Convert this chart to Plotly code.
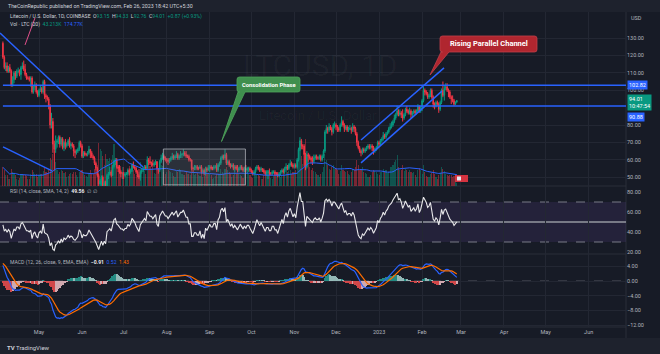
import numpy as np
import pandas as pd
import plotly.graph_objects as go

# ---------------- data ----------------
# closes before the visible window (Mar 1 - Apr 4 2022), only used to warm up RSI / MACD
warmup_close = [111,110,106,100,102,100,98,101,109,103,101,102,99,103,105,110,114,117,118,115,
                116,120,120,124,124,124,128,127,130,129,124,130,128,132,127]

# daily LTC/USD candles, 2022-04-05 .. 2023-02-26
close = (
    [119,113,114,111,113,111,103,106,110,108,111,111,109,113,114,112,109,107,107,106,107,99,102,103,99,97]
    + [100,101,99,105,97,96,95,91,80,82,69,66,70,71,73,69,72,67,70,68,69,71,68,69,68,65,64,65,66,70,68]
    + [62,64,63,63,64,66,64,62,61,58,55,51,46,48,50,45,47,44,51,52,53,51,56,59,60,56,55,53,52,52]
    + [51,52,52,54,53,54,57,56,55,53,51,50,53,54,55,56,55,60,59,58,58,57,58,59,55,54,59,61,62,61,60]
    + [60,59,60,61,62,61,62,63,61,62,63,63,64,63,62,62,60,60,55,55,56,56,55,55,56,53,54,52,55,54,55]
    + [56,55,55,56,56,54,57,58,61,62,61,63,58,59,57,56,57,55,56,55,54,55,56,55,54,55,54,55,55,54]
    + [53,52,53,55,56,55,54,55,54,53,52,53,53,52,52,53,53,52,52,51,52,53,54,53,55,56,55,57,58,57,56]
    + [57,56,60,66,71,68,68,63,56,63,62,61,60,59,61,62,61,61,62,60,62,65,76,78,77,79,78,76,80,80]
    + [79,78,77,80,82,80,78,79,77,78,78,77,79,78,75,70,67,65,64,66,65,66,67,68,67,68,67,65,66,67,70]
    + [69,71,72,74,73,75,76,78,79,80,82,84,86,88,86,87,86,84,86,89,88,87,88,86,87,88,87,88,91,88,90]
    + [94,100,99,98,96,97,100,96,92,91,93,92,89,93,100,97,101,102,100,99,96,95,94,92,93.15,94.01]
)
high = (
    [128,120,116,116,114,115,112,108,111,111,112,113,112,114,116,117,115,110,108,108,108,108,103,105,104,100]
    + [101,103,102,106,106,98,97,96,92,87,84,71,74,72,74,74,73,73,71,72,70,72,73,70,70,69,66,66,67,71,71]
    + [69,65,65,64,65,68,66,65,63,62,59,56,52,49,51,51,48,48,52,53,56,54,57,60,61,61,57,57,54,53]
    + [53,53,53,55,55,55,58,59,57,56,54,52,54,55,56,57,57,62,61,62,59,60,59,60,59,55,60,63,64,63,62]
    + [61,61,61,62,64,63,63,65,64,63,65,64,66,65,65,63,63,61,60,56,57,57,57,56,57,57,55,55,56,56,57]
    + [57,57,56,57,57,58,58,59,62,63,63,66,64,60,60,58,58,58,57,57,57,56,57,57,56,56,57,56,56,56]
    + [55,54,54,56,57,57,56,56,55,55,54,54,54,55,53,54,54,54,53,53,53,54,55,55,56,58,57,58,60,59,58]
    + [58,58,61,67,73,72,69,69,64,65,64,63,62,62,63,63,63,62,63,63,63,66,77,80,79,81,80,79,81,82]
    + [81,80,79,81,85,83,81,80,80,79,80,79,81,80,79,76,71,68,66,67,67,67,68,69,69,69,69,68,67,68,71]
    + [71,72,73,76,75,76,77,79,81,82,83,86,87,91,89,89,88,89,87,90,91,89,90,89,88,89,89,89,92,91,91]
    + [95,102,101,100,99,98,101,101,97,93,94,94,93,94,101,105,103,104,104,101,100,97,97,95,93.5,94.33]
)
low = (
    [118,112,111,110,110,110,102,102,104,106,107,110,108,106,112,111,108,106,106,105,102,98,98,100,98,96]
    + [96,99,98,98,95,93,94,89,78,78,64,54,64,67,69,67,68,66,65,66,67,68,67,66,67,62,61,63,64,65,67]
    + [61,61,62,62,62,63,61,61,60,57,54,50,44,44,45,44,44,42,43,49,51,50,51,55,57,55,53,52,50,49]
    + [49,50,51,51,51,52,53,55,54,52,50,49,48,52,53,54,54,55,57,57,56,56,56,57,54,52,53,58,60,60,59]
    + [58,57,58,59,60,60,60,61,60,60,61,61,62,62,61,61,59,59,54,53,54,54,54,54,55,52,52,51,51,53,54]
    + [53,54,54,54,55,53,53,56,57,60,60,60,57,57,56,55,56,54,53,54,53,53,54,54,53,53,53,52,53,53]
    + [52,51,51,52,54,54,53,53,53,52,51,51,49,51,51,51,52,51,51,50,50,51,52,52,52,54,54,54,56,56,55]
    + [55,55,55,59,65,66,66,56,54,55,59,60,58,57,58,60,60,60,60,59,59,61,64,75,75,76,77,74,75,78]
    + [77,76,76,76,79,79,76,77,76,76,77,75,76,76,74,68,66,64,62,63,64,64,65,66,66,66,65,63,64,65,66]
    + [68,68,70,71,72,72,74,75,77,78,79,81,83,85,85,85,84,82,83,85,87,86,86,84,84,86,86,86,87,87,87]
    + [88,93,97,97,95,95,96,95,90,89,90,91,87,88,92,96,94,100,99,96,95,92,93,91,91.5,92.76]
)
volume_k = (
    [300,260,180,170,120,110,280,230,200,170,120,100,130,200,190,170,180,160,110,120,200,260,220,200,190,150]
    + [170,200,190,240,300,230,190,260,450,420,520,560,380,260,200,230,260,240,210,230,150,160,200,210,190,230,220,170,150,230,240]
    + [250,220,170,160,140,200,260,200,190,270,280,330,700,600,560,480,330,520,430,400,450,420,500,680,420,330,280,300,320,300]
    + [310,180,160,220,320,260,300,260,200,180,230,270,380,280,300,240,200,380,370,320,280,300,210,200,250,280,380,330,320,220,200]
    + [230,250,240,220,210,160,150,240,230,280,250,200,180,170,230,200,190,180,330,230,170,190,210,170,160,230,150,160,230,210,200]
    + [190,170,120,130,160,200,200,180,280,230,190,280,310,250,230,200,150,170,220,200,230,200,180,160,130,210,240,230,200,180]
    + [150,130,170,200,180,170,160,120,110,170,200,180,260,230,130,120,160,190,170,180,170,140,170,190,240,300,230,240,250,200,220]
    + [230,250,330,560,720,480,350,620,760,520,400,300,250,290,240,220,200,170,150,190,230,300,520,420,330,280,250,310,340,280]
    + [270,250,200,240,330,260,240,220,240,200,170,230,280,260,300,420,340,260,280,300,230,210,200,150,140,180,220,260,240,230,200]
    + [180,230,220,280,240,260,210,230,300,310,330,380,420,500,300,250,260,330,240,280,260,220,250,230,210,220,180,150,250,290,260]
    + [200,330,220,160,140,150,200,210,250,200,140,110,170,210,300,280,240,200,170,160,180,170,150,160,120,43.213]
)
level_high = 102.82
level_low = 90.88
month_labels = ["May","Jun","Jul","Aug","Sep","Oct","Nov","Dec","2023","Feb","Mar","Apr","May","Jun"]
price_ticks = [50,60,70,80,100,110,120,130]   # 90.00 sits under the price tags in the reference
rsi_ticks = [20,40,60,80]
macd_ticks = [-12,-8,-4,0,4]

# ---------------- derived series ----------------
n = len(close)
dates = pd.date_range("2022-04-05", periods=n, freq="D")
opens = [warmup_close[-1]] + close[:-1]
k = len(warmup_close)
s_all = pd.Series(warmup_close + close, dtype=float)
d = s_all.diff()
ag = d.clip(lower=0).ewm(alpha=1/14, adjust=False).mean()
al = (-d.clip(upper=0)).ewm(alpha=1/14, adjust=False).mean()
rsi = (100 - 100 / (1 + ag / al)).values[k:]
macd_all = s_all.ewm(span=12, adjust=False).mean() - s_all.ewm(span=26, adjust=False).mean()
sig_all = macd_all.ewm(span=9, adjust=False).mean()
hist_all = (macd_all - sig_all).values
prev = np.roll(hist_all, 1)
hcol_all = np.where(hist_all >= 0, np.where(hist_all >= prev, "#26a69a", "#b2dfdb"),
                    np.where(hist_all < prev, "#ff5252", "#ffcdd2"))
macd = macd_all.values[k:]
sig = sig_all.values[k:]
hist = hist_all[k:]
hcol = list(hcol_all[k:])
vol_ma = pd.Series(volume_k, dtype=float).rolling(20, min_periods=1).mean()

UP, DN = "#089981", "#f23645"
vcol = ["rgba(8,153,129,0.45)" if c >= o else "rgba(242,54,69,0.45)" for o, c in zip(opens, close)]

# ---------------- geometry ----------------
W, H = 660, 354
def fx(p): return p / W
def fy(p): return 1 - p / H
XDOM = [0, fx(626)]
BG = "#171b26"
BAR = "#1e222d"
GRID = "#232733"
TXT = "#b2b5be"
BLUE = "#2962ff"
DAYMS = 86400000

fig = go.Figure()
fig.add_trace(go.Candlestick(x=dates, open=opens, high=high, low=low, close=close,
                             increasing=dict(line=dict(color=UP, width=1), fillcolor=UP),
                             decreasing=dict(line=dict(color=DN, width=1), fillcolor=DN),
                             whiskerwidth=0, xaxis="x", yaxis="y", hoverinfo="skip"))
fig.add_trace(go.Bar(x=dates, y=volume_k, marker=dict(color=vcol, line=dict(width=0)),
                     width=DAYMS * 0.8, xaxis="x", yaxis="y2", hoverinfo="skip"))
fig.add_trace(go.Scatter(x=dates, y=vol_ma, mode="lines", line=dict(color=BLUE, width=1),
                         xaxis="x", yaxis="y2", hoverinfo="skip"))
fig.add_trace(go.Scatter(x=dates, y=rsi, mode="lines", line=dict(color="#e8e8ea", width=1.1),
                         xaxis="x", yaxis="y3", hoverinfo="skip"))
fig.add_trace(go.Bar(x=dates, y=hist, marker=dict(color=hcol, line=dict(width=0)), opacity=0.8,
                     width=DAYMS * 0.85, xaxis="x", yaxis="y4", hoverinfo="skip"))
fig.add_trace(go.Scatter(x=dates, y=macd, mode="lines", line=dict(color=BLUE, width=1.2),
                         xaxis="x", yaxis="y4", hoverinfo="skip"))
fig.add_trace(go.Scatter(x=dates, y=sig, mode="lines", line=dict(color="#ff6d00", width=1.2),
                         xaxis="x", yaxis="y4", hoverinfo="skip"))

tickfont = dict(size=5.5, color=TXT, family="Roboto")
x_start, x_end = "2022-04-02 21:36", "2023-06-27 21:36"

def yax(dom, rng, ticks, fmt, grid=True):
    return dict(domain=dom, range=rng, side="right", anchor="x", tickvals=ticks,
                ticktext=[fmt(t) for t in ticks], tickfont=tickfont, showgrid=grid,
                gridcolor=GRID, gridwidth=1, zeroline=False, showline=False, ticks="",
                fixedrange=True)

fig.update_layout(
    width=W, height=H, margin=dict(l=0, r=0, t=0, b=0),
    paper_bgcolor=BG, plot_bgcolor=BG, showlegend=False, hovermode=False,
    bargap=0, font=dict(family="Roboto", color=TXT),
    xaxis=dict(domain=XDOM, anchor="y4", type="date", range=[x_start, x_end],
               tickvals=pd.date_range("2022-05-01", "2023-06-01", freq="MS"),
               ticktext=month_labels, tickfont=tickfont, showgrid=True, gridcolor=GRID,
               zeroline=False, showline=False, ticks="", rangeslider=dict(visible=False)),
    yaxis=yax([fy(186), fy(12)], [44.94, 144.94], price_ticks, lambda t: f"{t:.2f}"),
    yaxis2=dict(overlaying="y", range=[0, 2800], visible=False, fixedrange=True),
    yaxis3=yax([fy(254), fy(186)], [18, 86], rsi_ticks, lambda t: f"{t:.2f}", grid=False),
    yaxis4=yax([fy(327), fy(254)], [-12.47, 7.32], macd_ticks,
               lambda t: f"{t:.2f}".replace("-", "\u2212")),
)

shapes = []
def line(x0, y0, x1, y1, xref="x", yref="y", color=BLUE, width=1.5, dash="solid", layer="above"):
    shapes.append(dict(type="line", x0=x0, y0=y0, x1=x1, y1=y1, xref=xref, yref=yref,
                       line=dict(color=color, width=width, dash=dash), layer=layer))

# top and bottom bars
shapes.append(dict(type="rect", xref="paper", yref="paper", x0=0, x1=1, y0=fy(12), y1=1,
                   fillcolor=BAR, line=dict(width=0), layer="below"))
shapes.append(dict(type="rect", xref="paper", yref="paper", x0=0, x1=1, y0=0, y1=fy(338),
                   fillcolor=BAR, line=dict(width=0), layer="below"))
# separators
for yy in (186, 254, 327):
    line(0, fy(yy), XDOM[1], fy(yy), xref="paper", yref="paper", color="#2a2e39", width=1, layer="below")
line(XDOM[1], fy(12), XDOM[1], fy(338), xref="paper", yref="paper", color="#2a2e39", width=1, layer="below")

# RSI band & levels
shapes.append(dict(type="rect", xref="paper", yref="y3", x0=0, x1=XDOM[1], y0=30, y1=70,
                   fillcolor="rgba(126,87,194,0.13)", line=dict(width=0), layer="below"))
line(0, 70, XDOM[1], 70, xref="paper", yref="y3", color="#787b86", width=1, dash="dash", layer="below")
line(0, 30, XDOM[1], 30, xref="paper", yref="y3", color="#787b86", width=1, dash="dash", layer="below")
line(0, 50, XDOM[1], 50, xref="paper", yref="y3", color="#9598a1", width=1.5, layer="below")
# MACD zero line
line(0, 0, XDOM[1], 0, xref="paper", yref="y4", color="rgba(120,123,134,0.6)", width=1, dash="dash", layer="below")

# horizontal support/resistance
line("2022-04-05", level_high, x_end, level_high)
line("2022-04-05", level_low, x_end, level_low)
# descending trend lines
line(x_start, 132.9, "2022-07-14 22:00", 55.9)
line("2022-04-05 02:00", 67.4, "2022-05-10 09:00", 53.6)
# rising parallel channel
line("2022-12-19", 71.4, "2023-02-16 19:00", 112.8)
line("2022-12-19", 58.2, "2023-02-15 07:00", 99.5)
# pink drawing near top-left
line("2022-04-28 02:00", 141.5, "2022-04-20 22:00", 126, color="#e0508a", width=1)
# consolidation box
shapes.append(dict(type="rect", xref="x", yref="y", x0="2022-07-29 14:00", x1="2022-09-26 17:00",
                   y0=45.6, y1=66.2, fillcolor="rgba(120,123,134,0.22)",
                   line=dict(color="rgba(178,181,190,0.75)", width=1), layer="above"))

def callout(l, t, r, b, b1, b2, tip, rad=2.5):
    P = lambda x, y: f"{fx(x):.5f},{fy(y):.5f}"
    return (f"M {P(l+rad,t)} L {P(r-rad,t)} Q {P(r,t)} {P(r,t+rad)} L {P(r,b-rad)} "
            f"Q {P(r,b)} {P(r-rad,b)} L {P(b2,b)} L {P(*tip)} L {P(b1,b)} L {P(l+rad,b)} "
            f"Q {P(l,b)} {P(l,b-rad)} L {P(l,t+rad)} Q {P(l,t)} {P(l+rad,t)} Z")

shapes.append(dict(type="path", xref="paper", yref="paper",
                   path=callout(440, 36, 537, 52, 441, 449, (430, 75)),
                   fillcolor="#b0262f", line=dict(color="#c2404a", width=0.8), layer="above"))
shapes.append(dict(type="path", xref="paper", yref="paper",
                   path=callout(237, 77, 300, 92, 238, 245, (221.5, 141.5)),
                   fillcolor="#3f8f4e", line=dict(color="#4fa35c", width=0.8), layer="above"))
# volume badge
shapes.append(dict(type="rect", xref="paper", yref="paper", x0=fx(455), x1=fx(468), y0=fy(182), y1=fy(175),
                   fillcolor="#d63340", line=dict(width=0), layer="above"))
shapes.append(dict(type="rect", xref="paper", yref="paper", x0=fx(457), x1=fx(461), y0=fy(180.5), y1=fy(176.5),
                   fillcolor="#e8e8f0", line=dict(width=0), layer="above"))
fig.update_layout(shapes=shapes)

ann = []
def text(x, y, t, size=5, color="#d1d4dc", xanchor="left", **kw):
    ann.append(dict(x=fx(x), y=fy(y), xref="paper", yref="paper", text=t, showarrow=False,
                    xanchor=xanchor, yanchor="middle", font=dict(size=size, color=color, family="Roboto"), **kw))

G = "#089981"
text(6, 6, "TheCoinRepublic published on TradingView.com, Feb 26, 2023 18:42 UTC+5:30", size=5.3)
text(8, 17, "Litecoin / U.S. Dollar, 1D, COINBASE  "
            f"O<span style='color:{G}'>93.15</span>  H<span style='color:{G}'>94.33</span>  "
            f"L<span style='color:{G}'>92.76</span>  C<span style='color:{G}'>94.01</span>  "
            f"<span style='color:{G}'>+0.87 (+0.93%)</span>", size=5.1)
text(8, 24.5, f"Vol · LTC (20)  <span style='color:{G}'>43.213K</span>  "
              f"<span style='color:#2962ff'>174.77K</span>", size=5.1)
text(8, 191.5, "RSI (14, close, SMA, 14, 2)  <span style='color:#e8e8ea'><b>49.56</b></span>  ∅  ∅", size=5.1, color=TXT)
text(8, 262, "MACD (12, 26, close, 9, EMA, EMA)  <span style='color:#e8e8ea'><b>\u22120.91</b></span>  "
             "<span style='color:#2962ff'>0.52</span>  <span style='color:#ff6d00'>1.43</span>", size=5.1, color=TXT)
text(629, 18, "USD", size=5.5, color=TXT)
# watermark (kept above the callout text)
text(320, 66, "LTCUSD, 1D", size=30, color="rgba(255,255,255,0.035)", xanchor="center")
text(318, 116, "Litecoin / U.S. Dollar", size=13, color="rgba(255,255,255,0.035)", xanchor="center")
# callout texts
text(488.5, 44, "<b>Rising Parallel Channel</b>", size=7.5, color="#ffffff", xanchor="center")
text(268.5, 84.5, "<b>Consolidation Phase</b>", size=5.8, color="#ffffff", xanchor="center")
# bottom bar
text(5, 347, "<b>TV</b> TradingView", size=6, color="#d1d4dc")

# price tags on the axis
def tag(price, t, bg, yshift=0):
    ann.append(dict(x=fx(627), y=price, xref="paper", yref="y", text=t, showarrow=False,
                    xanchor="left", yanchor="middle", yshift=yshift, bgcolor=bg, borderpad=1.0,
                    font=dict(size=5.5, color="#ffffff", family="Roboto"), align="left"))
tag(level_high, "102.82", BLUE)
tag(close[-1], "94.01<br>10:47:54", G, yshift=-2)
tag(level_low, "90.88", BLUE, yshift=-11)
fig.update_layout(annotations=ann)

fig.write_html("out.html")
